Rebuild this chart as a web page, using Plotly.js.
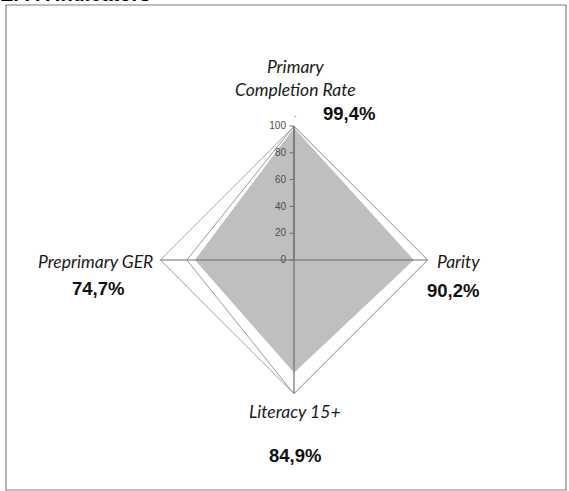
<!DOCTYPE html>
<html>
<head>
<meta charset="utf-8">
<script src="https://cdn.plot.ly/plotly-3.0.1.min.js"></script>
<style>
html,body{margin:0;padding:0;background:#fff;}
#chart{width:569px;height:491px;}
</style>
</head>
<body>
<div id="chart"></div>
<script>
// ---- data ----
var categories = ["Primary Completion Rate", "Parity", "Literacy 15+", "Preprimary GER"];
var values = [99.4, 90.2, 84.9, 74.7];
var valueLabels = ["99,4%", "90,2%", "84,9%", "74,7%"];
var frameOuter = [100, 100, 100, 100];
var frameInner = [100, 100, 100, 80];
var radialTicks = [0, 20, 40, 60, 80, 100];
var axisMax = 100;
var chartTitle = "E. FA Indicators";

function closeLoop(a){ return a.concat([a[0]]); }

var traces = [
  {
    type: "scatterpolar", r: closeLoop(values), theta: closeLoop(categories),
    mode: "lines", fill: "toself", fillcolor: "#bfbfbf",
    line: {color: "#ffffff", width: 1.5}, hoverinfo: "skip", showlegend: false
  },
  {
    type: "scatterpolar", r: closeLoop(frameOuter), theta: closeLoop(categories),
    mode: "lines", line: {color: "#858585", width: 1.1}, hoverinfo: "skip", showlegend: false
  },
  {
    type: "scatterpolar", r: closeLoop(frameInner), theta: closeLoop(categories),
    mode: "lines", line: {color: "#999999", width: 1}, hoverinfo: "skip", showlegend: false
  },
  {
    type: "scatterpolar", r: [axisMax, axisMax], theta: [categories[0], categories[2]],
    mode: "lines", line: {color: "#6e6e6e", width: 1.2}, hoverinfo: "skip", showlegend: false
  },
  {
    type: "scatterpolar", r: [axisMax, axisMax], theta: [categories[1], categories[3]],
    mode: "lines", line: {color: "#6e6e6e", width: 1.2}, hoverinfo: "skip", showlegend: false
  }
];

var W = 569, H = 491;
function px(x){ return x / W; }
function py(y){ return 1 - y / H; }

var catFont = {family: "Lato, 'Open Sans', sans-serif", size: 17.5, color: "#1a1a1a", style: "italic"};
var valFont = {family: "'Liberation Sans', Arial, sans-serif", size: 18.5, color: "#111111", weight: "bold"};

var annotations = [
  {text: chartTitle, x: px(-2), y: py(7), xanchor: "left", yanchor: "bottom",
   font: {family: "'Liberation Sans', Arial, sans-serif", size: 20, color: "#000", weight: "bold"}},
  {text: "Primary<br>Completion Rate", x: px(295), y: py(78), font: catFont},
  {text: valueLabels[0], x: px(349), y: py(113), font: valFont},
  {text: ".", x: px(295), y: py(114), font: {family: "Arial", size: 9, color: "#444"}},
  {text: categories[1], x: px(458), y: py(261), font: catFont},
  {text: valueLabels[1], x: px(453), y: py(290), font: valFont},
  {text: categories[2], x: px(295), y: py(411), font: catFont},
  {text: valueLabels[2], x: px(295), y: py(455), font: valFont},
  {text: "Preprimary GER", x: px(95), y: py(261), font: catFont},
  {text: valueLabels[3], x: px(98), y: py(288), font: valFont}
].map(function(a){
  return Object.assign({xref: "paper", yref: "paper", showarrow: false, align: "center",
                        xanchor: a.xanchor || "center", yanchor: a.yanchor || "middle"}, a);
});

var layout = {
  width: W, height: H,
  margin: {l: 0, r: 0, t: 0, b: 0},
  paper_bgcolor: "#ffffff",
  showlegend: false,
  polar: {
    domain: {x: [px(160), px(428)], y: [py(394), py(126)]},
    bgcolor: "rgba(0,0,0,0)",
    gridshape: "linear",
    angularaxis: {
      type: "category", categoryorder: "array", categoryarray: categories,
      direction: "clockwise", rotation: 90,
      showgrid: false, showline: false, showticklabels: false, ticks: ""
    },
    radialaxis: {
      range: [0, axisMax], tickvals: radialTicks, angle: 90, tickangle: 90,
      side: "counterclockwise", showgrid: false, showline: true,
      linecolor: "#6e6e6e", linewidth: 1,
      ticks: "outside", ticklen: 4, tickcolor: "#6e6e6e",
      tickfont: {family: "'Liberation Sans', Arial, sans-serif", size: 10, color: "#4d4d4d"},
      layer: "above traces"
    }
  },
  shapes: [
    {type: "rect", xref: "paper", yref: "paper", x0: px(6), x1: px(566), y0: py(490), y1: py(5),
     line: {color: "#7f7f7f", width: 1.2}, fillcolor: "rgba(0,0,0,0)"}
  ],
  annotations: annotations
};

Plotly.newPlot("chart", traces, layout, {staticPlot: true, displayModeBar: false});
</script>
</body>
</html>
